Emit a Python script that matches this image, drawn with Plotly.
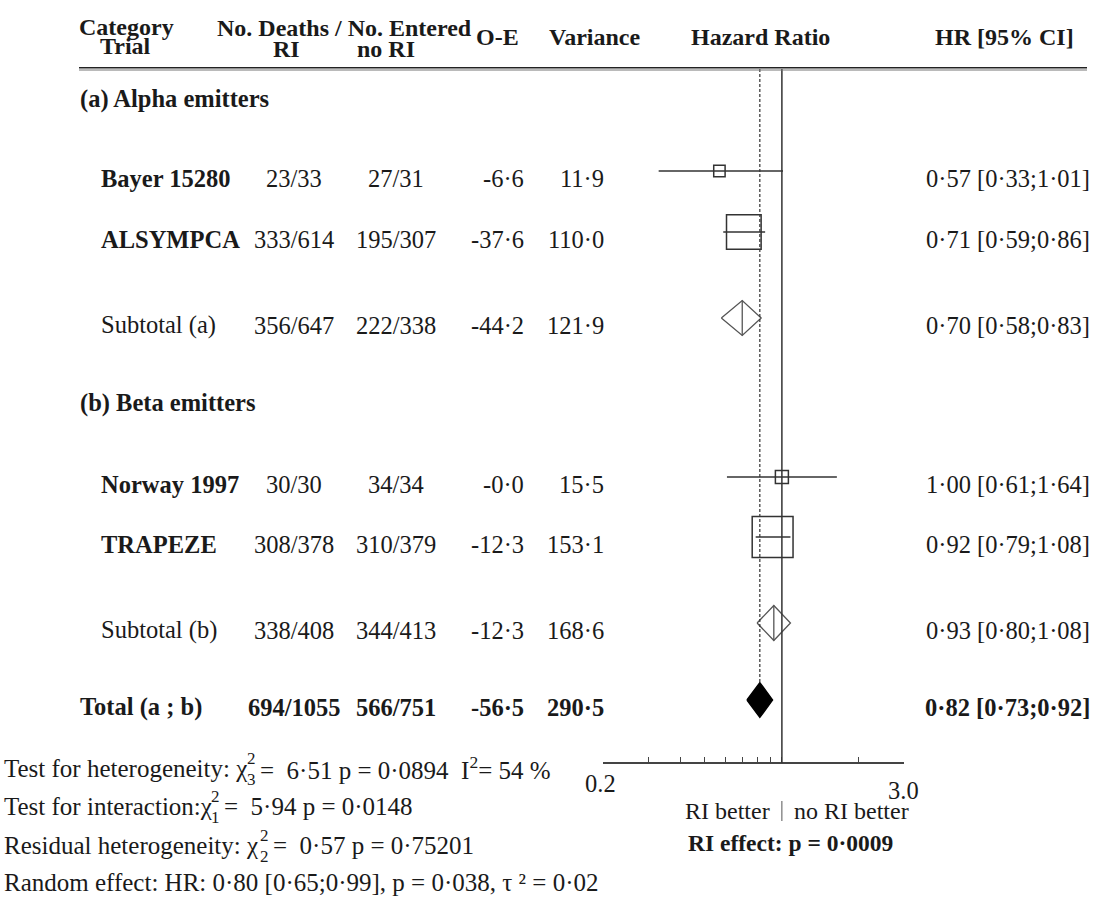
import math
import plotly.graph_objects as go

W, H = 1097, 902
SERIF = "Liberation Serif, Times New Roman, serif"
INK = "#1a1a1a"
LINE = "#333333"

# ---- data -------------------------------------------------------------
labels = ["Bayer 15280", "ALSYMPCA", "Subtotal (a)",
          "Norway 1997", "TRAPEZE", "Subtotal (b)", "Total (a ; b)"]
kinds = ["trial", "trial", "subtotal", "trial", "trial", "subtotal", "total"]
deaths_ri = ["23/33", "333/614", "356/647", "30/30", "308/378", "338/408", "694/1055"]
deaths_no_ri = ["27/31", "195/307", "222/338", "34/34", "310/379", "344/413", "566/751"]
o_minus_e = [-6.6, -37.6, -44.2, -0.0, -12.3, -12.3, -56.5]
variance = [11.9, 110.0, 121.9, 15.5, 153.1, 168.6, 290.5]
hr = [0.57, 0.71, 0.70, 1.00, 0.92, 0.93, 0.82]
ci_low = [0.33, 0.59, 0.58, 0.61, 0.79, 0.80, 0.73]
ci_high = [1.01, 0.86, 0.83, 1.64, 1.08, 1.08, 0.92]

group_labels = ["(a) Alpha emitters", "(b) Beta emitters"]
axis_ticks = [0.2, 0.3, 0.4, 0.5, 0.6, 0.7, 0.8, 0.9, 1.0, 2.0, 3.0]
axis_tick_labels = ["0.2", "3.0"]
overall_hr = 0.82

# ---- layout constants (pixel rows of the table) ------------------------
ROW_Y = [171, 232, 318, 477, 537, 623, 700]
GROUP_Y = [99, 403]
TEXT_DY = 7
AXIS_Y = 763
RULE_Y = 69
FS = 24.5   # body text size


def dot(v, nd):
    return f"{v:.{nd}f}".replace(".", "\u00b7")


def px(x):
    return x / W


annotations = []


def text(s, x, y, anchor="left", size=FS, bold=False):
    if bold:
        s = f"<b>{s}</b>"
    annotations.append(dict(
        text=s, x=px(x), xref="paper", y=y, yref="y",
        xanchor=anchor, yanchor="middle", showarrow=False,
        font=dict(family=SERIF, size=size, color=INK)))


fig = go.Figure()

# ---- forest marks -----------------------------------------------------
for i, kind in enumerate(kinds):
    y = ROW_Y[i]
    if kind == "trial":
        fig.add_trace(go.Scatter(
            x=[ci_low[i], ci_high[i]], y=[y, y], mode="lines",
            line=dict(color=LINE, width=1.5), hoverinfo="skip"))
        fig.add_trace(go.Scatter(
            x=[hr[i]], y=[y], mode="markers",
            marker=dict(symbol="square-open", size=3.3 * math.sqrt(variance[i]),
                        color=LINE, line=dict(color=LINE, width=1.5)),
            hoverinfo="skip"))
    else:
        h = 17.5
        fig.add_trace(go.Scatter(
            x=[ci_low[i], hr[i], ci_high[i], hr[i], ci_low[i]],
            y=[y, y - h, y, y + h, y], mode="lines",
            line=dict(color="#000" if kind == "total" else "#555", width=1.3),
            fill="toself" if kind == "total" else None,
            fillcolor="#000", hoverinfo="skip"))
        if kind == "subtotal":
            fig.add_trace(go.Scatter(
                x=[hr[i], hr[i]], y=[y - h, y + h], mode="lines",
                line=dict(color="#555", width=1.3), hoverinfo="skip"))

# line of no effect and overall estimate
shapes = [
    dict(type="line", xref="x", yref="y", x0=1, x1=1, y0=RULE_Y, y1=AXIS_Y,
         line=dict(color=LINE, width=1.5)),
    dict(type="line", xref="x", yref="y", x0=overall_hr, x1=overall_hr,
         y0=RULE_Y, y1=ROW_Y[-1] - 17, line=dict(color=LINE, width=1.2, dash="3px,2px")),
    # header rule
    dict(type="line", xref="paper", yref="y", x0=px(79), x1=px(1087),
         y0=RULE_Y - 1.2, y1=RULE_Y - 1.2, line=dict(color="#222", width=1.4)),
    dict(type="line", xref="paper", yref="y", x0=px(79), x1=px(1087),
         y0=RULE_Y + 1.0, y1=RULE_Y + 1.0, line=dict(color="#777", width=1.2)),
    # divider between the axis captions
    dict(type="line", xref="x", yref="y", x0=1, x1=1, y0=801, y1=821,
         line=dict(color="#555", width=1)),
]

# ---- header -----------------------------------------------------------
HS = 24
text("Category", 127, 27, "center", HS, True)
text("Trial", 125, 46, "center", HS, True)
text("No. Deaths / No. Entered", 344, 28, "center", HS, True)
text("RI", 286, 49, "center", HS, True)
text("no RI", 386, 49, "center", HS, True)
text("O-E", 497, 37, "center", HS, True)
text("Variance", 594, 37, "center", HS, True)
text("Hazard Ratio", 760, 37, "center", HS, True)
text("HR [95% CI]", 1004, 37, "center", HS, True)

# ---- table body -------------------------------------------------------
for lab, gy in zip(group_labels, GROUP_Y):
    text(lab, 78, gy, "left", FS, True)

for i, kind in enumerate(kinds):
    y = ROW_Y[i] + TEXT_DY
    bold_row = kind == "total"
    text(labels[i], 78 if kind == "total" else 99, y, "left", FS, kind != "subtotal")
    text(deaths_ri[i], 294, y, "center", FS, bold_row)
    text(deaths_no_ri[i], 396, y, "center", FS, bold_row)
    text(dot(o_minus_e[i], 1), 526, y, "right", FS, bold_row)
    text(dot(variance[i], 1), 606, y, "right", FS, bold_row)
    text(f"{dot(hr[i], 2)} [{dot(ci_low[i], 2)};{dot(ci_high[i], 2)}]",
         1092, y, "right", FS, bold_row)

# ---- axis captions ----------------------------------------------------
text(axis_tick_labels[0], 600, 783, "center", FS)
text(axis_tick_labels[1], 903, 790, "center", FS)
# annotation x on a log axis is given in log10 units
annotations.append(dict(text="RI better", x=math.log10(1.0), xref="x", xshift=-10,
                        y=811, yref="y", xanchor="right", yanchor="middle",
                        showarrow=False, font=dict(family=SERIF, size=24, color=INK)))
annotations.append(dict(text="no RI better", x=math.log10(1.0), xref="x", xshift=10,
                        y=811, yref="y", xanchor="left", yanchor="middle",
                        showarrow=False, font=dict(family=SERIF, size=24, color=INK)))
text("RI effect: p = 0\u00b70009", 686, 843, "left", 23.5, True)

# ---- heterogeneity statistics -----------------------------------------
BS = 25
SS = 17
text("Test for heterogeneity: \u03c7", 2, 768, "left", BS)
text("2", 245, 758, "left", SS)
text("3", 245, 779, "left", SS)
text("=  6\u00b751 p = 0\u00b70894  I<sup>2</sup>= 54 %", 258, 768, "left", BS)

text("Test for interaction:\u03c7", 2, 806, "left", BS)
text("2", 209, 796, "left", SS)
text("1", 209, 817, "left", SS)
text("=  5\u00b794 p = 0\u00b70148", 222, 806, "left", BS)

text("Residual heterogeneity: \u03c7", 2, 845, "left", BS)
text("2", 258, 835, "left", SS)
text("2", 258, 856, "left", SS)
text("=  0\u00b757 p = 0\u00b775201", 271, 845, "left", BS)

text("Random effect: HR: 0\u00b780 [0\u00b765;0\u00b799], p = 0\u00b7038, \u03c4 \u00b2 = 0\u00b702",
     2, 882, "left", BS)

fig.update_layout(
    width=W, height=H, margin=dict(l=0, r=0, t=0, b=0),
    paper_bgcolor="white", plot_bgcolor="white", showlegend=False,
    shapes=shapes, annotations=annotations,
    xaxis=dict(type="log", range=[math.log10(0.2), math.log10(3.0)],
               domain=[px(603), px(904)], anchor="free", position=1 - AXIS_Y / H,
               showline=True, linecolor="#444", linewidth=1.5,
               ticks="inside", ticklen=5, tickwidth=1.2, tickcolor="#444",
               tickvals=axis_ticks, ticktext=[""] * len(axis_ticks),
               showgrid=False, zeroline=False, fixedrange=True),
    yaxis=dict(range=[H, 0], domain=[0, 1], visible=False, fixedrange=True),
)

fig.write_html("out.html")
